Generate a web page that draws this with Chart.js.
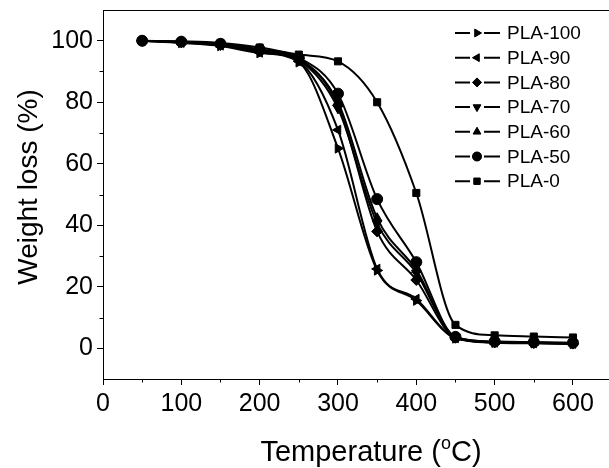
<!DOCTYPE html>
<html>
<head>
<meta charset="utf-8">
<script src="https://cdn.jsdelivr.net/npm/chart.js@4/dist/chart.umd.min.js"></script>
<style>
  html, body { margin: 0; padding: 0; background: #fff; }
  canvas { display: block; }
</style>
</head>
<body>
<canvas id="tga" width="609" height="468"></canvas>
<script>
// TGA data, temperature in degC, remaining weight in %
const temps = [50, 100, 150, 200, 250, 300, 350, 400, 450, 500, 550, 600];
const pla100 = [100, 99.3, 98.3, 96.0, 93.0, 65.0, 25.3, 15.5, 3.2, 1.8, 1.6, 1.4];
const pla90  = [100, 99.4, 98.5, 96.2, 93.3, 71.0, 25.8, 16.0, 3.3, 1.9, 1.7, 1.5];
const pla80  = [100, 99.6, 98.9, 97.0, 94.2, 79.0, 38.0, 22.2, 3.4, 1.9, 1.7, 1.5];
const pla70  = [100, 99.5, 98.6, 96.5, 93.7, 78.0, 40.6, 24.5, 3.5, 2.0, 1.8, 1.6];
const pla60  = [100, 99.6, 98.8, 96.8, 94.0, 80.0, 42.3, 25.5, 3.6, 2.1, 1.9, 1.7];
const pla50  = [100, 99.7, 99.0, 97.2, 94.5, 82.8, 48.5, 28.0, 3.7, 2.2, 2.0, 1.8];
const pla0   = [100, 99.8, 99.3, 97.8, 95.5, 93.3, 80.0, 50.5, 7.6, 4.2, 3.8, 3.5];

const seriesNames = ["PLA-100", "PLA-90", "PLA-80", "PLA-70", "PLA-60", "PLA-50", "PLA-0"];
const seriesValues = [pla100, pla90, pla80, pla70, pla60, pla50, pla0];

const xTicks = [0, 100, 200, 300, 400, 500, 600];
const xMinor = [50, 150, 250, 350, 450, 550];
const yTicks = [0, 20, 40, 60, 80, 100];
const yMinor = [10, 30, 50, 70, 90];

const FONT = "Arial, 'Liberation Sans', sans-serif";
const INK = "#000";

// marker per series (same order as seriesNames)
const markers = [
  { style: "triangle", rotation: 90 },
  { style: "triangle", rotation: -90 },
  { style: "rectRot", rotation: 0 },
  { style: "triangle", rotation: 180 },
  { style: "triangle", rotation: 0 },
  { style: "circle", rotation: 0 },
  { style: "rect", rotation: 0 },
];

const datasets = seriesNames.map((name, i) => ({
  label: name,
  data: temps.map((t, j) => ({ x: t, y: seriesValues[i][j] })),
  borderColor: INK,
  backgroundColor: INK,
  borderWidth: 2,
  pointStyle: markers[i].style,
  rotation: markers[i].rotation,
  pointRadius: markers[i].style === "rect" ? 5 : 5.5,
  pointBackgroundColor: INK,
  pointBorderColor: INK,
  pointBorderWidth: 1,
  cubicInterpolationMode: "monotone",
  fill: false,
}));

const decorations = {
  id: "decorations",
  afterDraw(chart) {
    const { ctx, chartArea: area, scales } = chart;
    const xs = scales.x, ys = scales.y;
    ctx.save();
    ctx.strokeStyle = INK;
    ctx.lineWidth = 1;

    // top frame line
    ctx.beginPath();
    ctx.moveTo(area.left, area.top + 0.5);
    ctx.lineTo(chart.width, area.top + 0.5);
    ctx.stroke();

    // minor ticks
    ctx.beginPath();
    xMinor.forEach(v => {
      const px = Math.round(xs.getPixelForValue(v)) + 0.5;
      ctx.moveTo(px, area.bottom);
      ctx.lineTo(px, area.bottom + 3.5);
    });
    yMinor.forEach(v => {
      const py = Math.round(ys.getPixelForValue(v)) + 0.5;
      ctx.moveTo(area.left, py);
      ctx.lineTo(area.left - 3.5, py);
    });
    ctx.stroke();

    // axis titles
    ctx.fillStyle = INK;
    ctx.textBaseline = "alphabetic";
    const big = "29px " + FONT, sup = "18px " + FONT;
    ctx.font = big;
    const a = "Temperature (", c = "C)";
    const wa = ctx.measureText(a).width, wc = ctx.measureText(c).width;
    ctx.font = sup;
    const wo = ctx.measureText("o").width;
    let tx = 371 - (wa + wo + wc) / 2;
    const ty = 461;
    ctx.font = big;
    ctx.textAlign = "left";
    ctx.fillText(a, tx, ty);
    ctx.font = sup;
    ctx.fillText("o", tx + wa, ty - 12);
    ctx.font = big;
    ctx.fillText(c, tx + wa + wo, ty);

    ctx.save();
    ctx.translate(37, 187);
    ctx.rotate(-Math.PI / 2);
    ctx.font = "28px " + FONT;
    ctx.textAlign = "center";
    ctx.fillText("Weight loss (%)", 0, 0);
    ctx.restore();

    // legend: line - marker - line, label
    ctx.font = "19px " + FONT;
    ctx.textAlign = "left";
    ctx.textBaseline = "middle";
    ctx.lineWidth = 2;
    seriesNames.forEach((name, i) => {
      const y = 33 + i * 24.7;
      ctx.beginPath();
      ctx.moveTo(455, y);
      ctx.lineTo(470, y);
      ctx.moveTo(484, y);
      ctx.lineTo(500, y);
      ctx.stroke();
      if (Chart.helpers && Chart.helpers.drawPoint) {
        ctx.lineWidth = 1;
        Chart.helpers.drawPoint(ctx, {
          pointStyle: markers[i].style,
          rotation: markers[i].rotation,
          radius: 4.5,
          borderWidth: 1,
        }, 477, y);
        ctx.fill();
        ctx.lineWidth = 2;
      }
      ctx.fillText(name, 507, y + 1);
    });
    ctx.restore();
  },
};

new Chart(document.getElementById("tga"), {
  type: "line",
  data: { datasets },
  options: {
    responsive: false,
    animation: false,
    layout: { autoPadding: false, padding: { top: 10, right: 0, left: 0, bottom: 0 } },
    plugins: { legend: { display: false }, tooltip: { enabled: false } },
    scales: {
      x: {
        type: "linear",
        min: 0,
        max: 646,
        afterBuildTicks: s => { s.ticks = xTicks.map(v => ({ value: v })); },
        afterFit: s => { s.height = 89; s.paddingLeft = 0; s.paddingRight = 0; },
        border: { display: true, color: INK, width: 1 },
        grid: { drawOnChartArea: false, drawTicks: true, tickLength: 6, color: INK },
        ticks: { color: INK, font: { family: FONT, size: 25 }, padding: 4, maxRotation: 0 },
      },
      y: {
        type: "linear",
        min: -10,
        max: 110,
        afterBuildTicks: s => { s.ticks = yTicks.map(v => ({ value: v })); },
        afterFit: s => { s.width = 103; s.paddingTop = 0; s.paddingBottom = 0; },
        border: { display: true, color: INK, width: 1 },
        grid: { drawOnChartArea: false, drawTicks: true, tickLength: 6, color: INK },
        ticks: { color: INK, font: { family: FONT, size: 25 }, padding: 4 },
      },
    },
  },
  plugins: [decorations],
});
</script>
</body>
</html>
